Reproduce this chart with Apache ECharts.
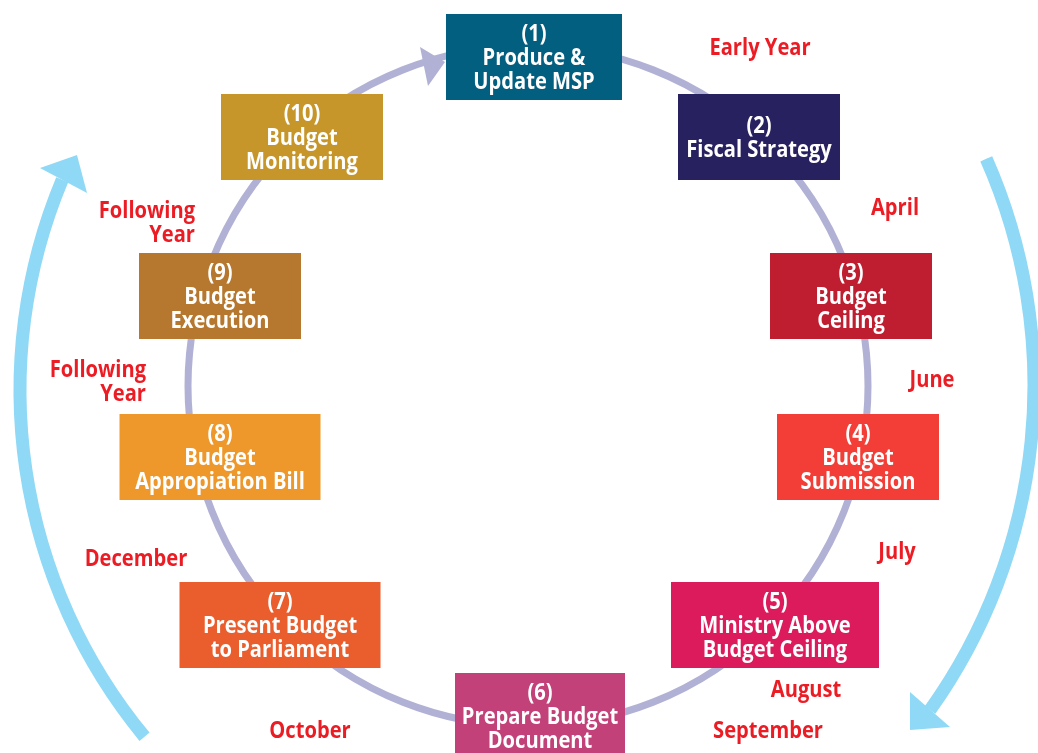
<!DOCTYPE html>
<html>
<head>
<meta charset="utf-8">
<script src="https://cdn.jsdelivr.net/npm/echarts@6/dist/echarts.min.js"></script>
<style>
  html, body { margin: 0; padding: 0; background: #fff; }
  #main { width: 1038px; height: 753px; }
</style>
</head>
<body>
<div id="main"></div>
<script>
// budget cycle steps and the months between them
const stepLabels = [
  "(1)\nProduce &\nUpdate MSP",
  "(2)\nFiscal Strategy",
  "(3)\nBudget\nCeiling",
  "(4)\nBudget\nSubmission",
  "(5)\nMinistry Above\nBudget Ceiling",
  "(6)\nPrepare Budget\nDocument",
  "(7)\nPresent Budget\nto Parliament",
  "(8)\nBudget\nAppropiation Bill",
  "(9)\nBudget\nExecution",
  "(10)\nBudget\nMonitoring"
];
const monthLabels = [
  "Early Year", "April", "June", "July", "August",
  "September", "October", "December", "Following\nYear", "Following\nYear"
];

// layout (diagram units = pixels of the original)
const boxPos = [
  [534, 57], [759, 137], [851, 296], [858, 457], [775, 625],
  [540, 716], [280, 625], [220, 457], [220, 296], [302, 137]
];
const boxSize = [
  [176, 86], [162, 86], [162, 86], [162, 86], [208, 86],
  [170, 86], [201, 86], [201, 86], [162, 86], [162, 86]
];
const boxColors = [
  "#035f80", "#28215f", "#be1e2f", "#f23e36", "#db1b5b",
  "#c14178", "#ea5d2c", "#ee982b", "#b5782e", "#c6962a"
];
const monthPos = [
  [760, 48], [895, 208], [932, 380], [897, 552], [806, 690],
  [768, 731], [310, 731], [136, 559], [195, 223], [146, 382]
];
const monthAlign = ["center", "center", "center", "center", "center",
  "center", "center", "center", "right", "right"];

// ring + outer arcs: center, radius, start point, end point, width, colour
const arcs = [
  { c: [528, 386], r: 340, from: null, to: null, w: 7, color: "#b1b1d5" },
  { c: [565, 390], r: 545, from: [143, 738], to: [63, 180], w: 13, color: "#8fd9f6" },
  { c: [474, 385], r: 560, from: [988, 158], to: [930, 710], w: 13, color: "#8fd9f6" }
];
const heads = [
  { pts: [[420, 47], [445, 62], [428, 86]], color: "#b1b1d5" },
  { pts: [[40, 168], [77, 155], [87, 193]], color: "#8fd9f6" },
  { pts: [[910, 692], [950, 727], [910, 730]], color: "#8fd9f6" }
];

const FONT = '"Open Sans", "Noto Sans", sans-serif';
const SQUEEZE = 0.875; // condensed look

let chartDom = document.getElementById("main");
let myChart = echarts.init(chartDom, null, { renderer: "canvas" });

function squeezedText(pos, text, fill, align, dy) {
  return {
    type: "text",
    x: pos[0],
    y: pos[1] + dy,
    scaleX: SQUEEZE,
    style: {
      text: text,
      fill: fill,
      fontFamily: FONT,
      fontWeight: "bold",
      fontSize: 23,
      lineHeight: 24,
      align: align,
      verticalAlign: "middle"
    }
  };
}

let option = {
  animation: false,
  grid: { left: 0, right: 0, top: 0, bottom: 0 },
  xAxis: { type: "value", min: 0, max: 1038, show: false },
  yAxis: { type: "value", min: 0, max: 753, inverse: true, show: false },
  series: [
    {
      // circle and arrows
      type: "custom",
      z: 1,
      silent: true,
      data: arcs.map((a) => a.c),
      renderItem: function (params, api) {
        let a = arcs[params.dataIndex];
        let c = api.coord(a.c);
        let r = api.size([a.r, 0])[0];
        let start = 0, end = Math.PI * 2;
        if (a.from) {
          let p0 = api.coord(a.from), p1 = api.coord(a.to);
          start = Math.atan2(p0[1] - c[1], p0[0] - c[0]);
          end = Math.atan2(p1[1] - c[1], p1[0] - c[0]);
          if (end < start) end += Math.PI * 2;
        }
        let h = heads[params.dataIndex];
        return {
          type: "group",
          children: [
            {
              type: "arc",
              shape: { cx: c[0], cy: c[1], r: r, startAngle: start, endAngle: end, clockwise: true },
              style: { stroke: a.color, fill: null, lineWidth: a.w }
            },
            {
              type: "polygon",
              shape: { points: h.pts.map((p) => api.coord(p)) },
              style: { fill: h.color }
            }
          ]
        };
      }
    },
    {
      // step boxes
      type: "custom",
      z: 3,
      silent: true,
      data: boxPos,
      renderItem: function (params, api) {
        let i = params.dataIndex;
        let c = api.coord(boxPos[i]);
        let s = api.size(boxSize[i]);
        return {
          type: "group",
          children: [
            {
              type: "rect",
              shape: { x: c[0] - s[0] / 2, y: c[1] - s[1] / 2, width: s[0], height: s[1] },
              style: { fill: boxColors[i] }
            },
            squeezedText(c, stepLabels[i], "#ffffff", "center", 1)
          ]
        };
      }
    },
    {
      // month labels
      type: "custom",
      z: 4,
      silent: true,
      data: monthPos,
      renderItem: function (params, api) {
        let i = params.dataIndex;
        return squeezedText(api.coord(monthPos[i]), monthLabels[i], "#ec1c24", monthAlign[i], 0);
      }
    }
  ]
};

option && myChart.setOption(option);
</script>
</body>
</html>
